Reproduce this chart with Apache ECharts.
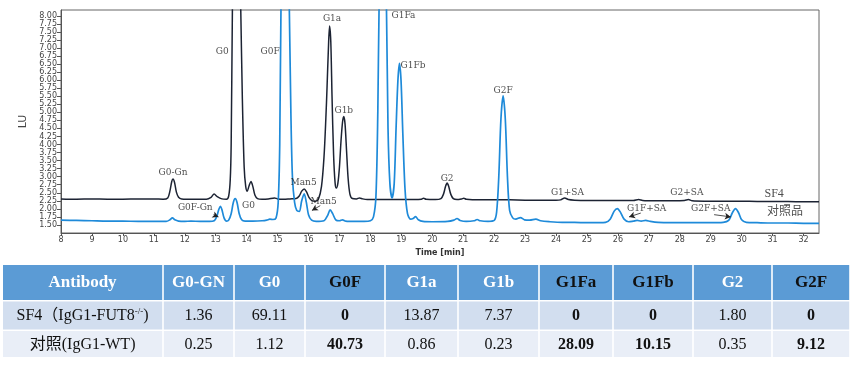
<!DOCTYPE html>
<html>
<head>
<meta charset="utf-8">
<script src="https://cdn.jsdelivr.net/npm/echarts@6/dist/echarts.min.js"></script>
<style>html,body{margin:0;padding:0;background:#fff;}#c{width:853px;height:365px;}</style>
</head>
<body>
<div id="c"></div>
<script>
// ---- chromatogram traces [time(min), signal(LU)] ----
const sf4Trace = [
[8.0,2.31],[8.5,2.30],[9.0,2.31],[9.5,2.30],[10.0,2.30],[10.5,2.31],[11.0,2.31],[11.3,2.30],[11.45,2.34],[11.52,2.55],[11.58,2.85],[11.62,2.93],[11.67,2.82],[11.73,2.52],[11.8,2.36],[11.9,2.31],[12.3,2.30],[12.7,2.30],[12.85,2.36],[12.95,2.46],[13.05,2.38],[13.2,2.31],[13.35,2.30],[13.42,2.40],[13.47,2.9],[13.5,4.0],[13.54,8.2],[13.58,11.5],[13.66,13.0],[13.74,11.5],[13.81,8.2],[13.86,5.5],[13.92,3.3],[13.97,2.7],[14.02,2.55],[14.08,2.72],[14.14,2.85],[14.2,2.70],[14.27,2.42],[14.35,2.32],[14.5,2.30],[14.7,2.31],[14.9,2.34],[15.0,2.31],[15.2,2.30],[15.4,2.31],[15.6,2.32],[15.7,2.40],[15.78,2.55],[15.86,2.62],[15.94,2.52],[16.02,2.35],[16.12,2.25],[16.22,2.24],[16.32,2.30],[16.42,2.70],[16.5,3.6],[16.56,4.8],[16.6,5.8],[16.64,6.9],[16.68,7.68],[16.72,7.2],[16.76,5.5],[16.81,3.7],[16.86,2.8],[16.9,2.65],[16.95,2.8],[17.0,3.3],[17.05,4.1],[17.1,4.7],[17.14,4.87],[17.18,4.65],[17.23,3.8],[17.28,2.95],[17.34,2.45],[17.42,2.32],[17.55,2.31],[17.65,2.34],[17.75,2.31],[17.9,2.29],[18.3,2.29],[18.7,2.29],[19.0,2.29],[19.4,2.29],[19.65,2.30],[19.72,2.33],[19.8,2.30],[20.1,2.29],[20.28,2.32],[20.36,2.45],[20.43,2.70],[20.48,2.80],[20.53,2.70],[20.6,2.45],[20.68,2.32],[20.8,2.29],[20.95,2.31],[21.02,2.33],[21.1,2.30],[21.5,2.28],[22.0,2.28],[22.5,2.28],[23.0,2.27],[23.5,2.27],[24.0,2.27],[24.15,2.28],[24.28,2.34],[24.4,2.29],[24.6,2.27],[25.0,2.26],[25.5,2.26],[26.0,2.26],[26.5,2.26],[26.67,2.29],[26.8,2.26],[27.2,2.25],[27.8,2.25],[28.15,2.26],[28.28,2.29],[28.4,2.25],[28.8,2.24],[29.5,2.24],[30.0,2.24],[30.5,2.23],[31.0,2.23],[31.5,2.23],[32.0,2.22],[32.5,2.22]
];
const ctrlTrace = [
[8.0,1.65],[8.5,1.64],[9.0,1.63],[9.5,1.62],[10.0,1.62],[10.5,1.61],[11.0,1.61],[11.4,1.61],[11.52,1.66],[11.6,1.72],[11.68,1.66],[11.8,1.62],[12.0,1.61],[12.2,1.62],[12.5,1.61],[12.8,1.61],[12.95,1.63],[13.03,1.75],[13.1,1.98],[13.15,2.08],[13.2,1.98],[13.27,1.72],[13.35,1.62],[13.42,1.65],[13.5,1.85],[13.57,2.2],[13.63,2.32],[13.69,2.2],[13.76,1.85],[13.84,1.66],[13.95,1.62],[14.2,1.62],[14.5,1.63],[14.65,1.65],[14.75,1.68],[14.85,1.67],[14.95,1.72],[15.02,2.2],[15.07,4.0],[15.11,8.2],[15.2,12.0],[15.3,12.0],[15.38,8.2],[15.43,5.0],[15.48,3.0],[15.55,2.2],[15.62,1.95],[15.7,1.92],[15.78,2.25],[15.86,2.47],[15.93,2.2],[16.0,1.82],[16.1,1.65],[16.25,1.61],[16.5,1.63],[16.62,1.8],[16.7,1.97],[16.78,1.85],[16.88,1.66],[17.0,1.63],[17.1,1.66],[17.2,1.62],[17.5,1.61],[17.8,1.61],[18.0,1.63],[18.1,1.75],[18.18,2.4],[18.24,5.0],[18.28,8.2],[18.4,13.0],[18.52,8.2],[18.57,4.5],[18.63,2.8],[18.7,2.34],[18.77,2.8],[18.83,4.5],[18.89,6.0],[18.94,6.52],[18.99,6.0],[19.05,4.3],[19.12,2.6],[19.2,1.85],[19.3,1.68],[19.38,1.7],[19.46,1.76],[19.55,1.66],[19.7,1.61],[20.0,1.60],[20.5,1.61],[20.7,1.65],[20.8,1.70],[20.9,1.64],[21.1,1.61],[21.35,1.63],[21.45,1.67],[21.55,1.63],[21.8,1.61],[22.0,1.64],[22.08,1.9],[22.15,3.0],[22.22,4.8],[22.29,5.51],[22.36,4.8],[22.43,3.0],[22.5,1.95],[22.6,1.72],[22.7,1.68],[22.85,1.73],[22.98,1.66],[23.15,1.65],[23.35,1.68],[23.5,1.63],[23.8,1.60],[24.2,1.58],[24.6,1.58],[25.0,1.57],[25.4,1.57],[25.6,1.58],[25.75,1.68],[25.88,1.93],[25.98,2.01],[26.08,1.9],[26.2,1.68],[26.35,1.60],[26.5,1.62],[26.62,1.64],[26.75,1.62],[26.9,1.64],[27.05,1.61],[27.3,1.58],[27.7,1.57],[28.0,1.57],[28.5,1.57],[29.0,1.57],[29.4,1.58],[29.58,1.64],[29.7,1.88],[29.8,2.01],[29.9,1.88],[30.0,1.66],[30.15,1.58],[30.5,1.57],[31.0,1.56],[31.5,1.56],[32.0,1.55],[32.5,1.55]
];
// peak annotations [text, time, signal]
const peakLabels = [
['G0-Gn',11.62,3.12],['G0',13.21,6.90],['G0F',14.76,6.90],['G1a',16.76,7.90],['G1Fa',19.07,8.00],
['G1b',17.14,5.05],['G1Fb',19.38,6.45],['G2F',22.29,5.68],['G2',20.48,2.94],['G1+SA',24.37,2.49],
['G2+SA',28.23,2.49],['G0F-Gn',12.34,2.03],['G0',14.06,2.11],['Man5',15.84,2.80],['Man5',16.49,2.23],
['G1F+SA',26.93,2.00],['G2F+SA',29.0,2.00]
];
const traceNames = [['SF4',31.05,2.46],['对照品',31.4,1.90]];
// arrows [fromT, fromV, toT, toV]
const arrows = [[12.93,1.82,13.09,1.75],[16.38,2.10,16.11,1.95],[26.74,1.87,26.36,1.75],[29.11,1.82,29.65,1.75]];

// ---- table ----
const tableHeaders = ['Antibody','G0-GN','G0','G0F','G1a','G1b','G1Fa','G1Fb','G2','G2F'];
const fucoCols = ['G0F','G1Fa','G1Fb','G2F'];
const rowLabels = [['SF4（IgG1-FUT8','-/-',')'],['对照(IgG1-WT)','','']];
const sf4Values = ['1.36','69.11','0','13.87','7.37','0','0','1.80','0'];
const ctrlValues = ['0.25','1.12','40.73','0.86','0.23','28.09','10.15','0.35','9.12'];

const chart = echarts.init(document.getElementById('c'), null, {renderer:'canvas'});
const serif = "'Liberation Serif','Noto Sans CJK SC',serif";
const lblSerif = "'DejaVu Serif','Liberation Serif',serif";
const sans = "'DejaVu Sans','Liberation Sans',sans-serif";

// table graphics
const colEdges = [3,163,234,305,385,458,539,613,693,772,850];
const rowEdges = [[265,300],[301.5,329.5],[331,357]];
const rowFills = ['#5B9BD5','#D2DEEF','#E9EEF7'];
const g = [];
for (let r = 0; r < 3; r++) {
  for (let c = 0; c < tableHeaders.length; c++) {
    const x0 = colEdges[c] + (c ? 0.8 : 0), x1 = colEdges[c+1] - 0.8;
    const y0 = rowEdges[r][0], y1 = rowEdges[r][1];
    g.push({type:'rect', shape:{x:x0,y:y0,width:x1-x0,height:y1-y0}, style:{fill:rowFills[r]}, silent:true});
    const fuco = fucoCols.indexOf(tableHeaders[c]) >= 0;
    let style;
    if (r === 0) {
      style = {text: tableHeaders[c], fontFamily: serif, fontSize: 17, fontWeight: 'bold', fill: fuco ? '#111' : '#fff'};
    } else if (c === 0) {
      const lab = rowLabels[r-1];
      let t = '{a|' + lab[0] + '}';
      if (lab[1]) t += '{s|' + lab[1] + '}';
      if (lab[2]) t += '{a|' + lab[2] + '}';
      style = {text: t, rich: {a:{fontFamily: serif, fontSize: 16, fill:'#111', lineHeight: 18}, s:{fontFamily: serif, fontSize: 9, fill:'#111', verticalAlign:'top', lineHeight: 18}}};
    } else {
      const v = (r === 1 ? sf4Values : ctrlValues)[c-1];
      style = {text: v, fontFamily: serif, fontSize: 16, fontWeight: fuco ? 'bold' : 'normal', fill:'#111'};
    }
    style.align = 'center'; style.textAlign = 'center';
    style.verticalAlign = 'middle'; style.textVerticalAlign = 'middle';
    g.push({type:'text', x:(x0+x1)/2, y:(y0+y1)/2 + 0.5, style: style, silent:true, z: 10});
  }
}

const labelData = peakLabels.map(p => ({name:p[0], value:[p[1],p[2]]}));
const nameData = traceNames.map(p => ({name:p[0], value:[p[1],p[2]]}));

chart.setOption({
  animation:false,
  backgroundColor:'#fff',
  grid:{left:61, right:34, top:10, bottom:132, show:true, borderColor:'#666', borderWidth:1, outerBoundsMode:'none'},
  xAxis:{type:'value', min:8, max:32.5, interval:1,
    name:'Time [min]', nameLocation:'middle', nameGap:8,
    nameTextStyle:{fontFamily:sans, fontSize:8, color:'#333', fontWeight:'bold'},
    axisLine:{show:true, onZero:false, lineStyle:{color:'#555', width:1}},
    axisTick:{show:true, length:3, lineStyle:{color:'#555'}},
    axisLabel:{fontFamily:sans, fontSize:8, color:'#444', margin:3, showMaxLabel:false},
    splitLine:{show:false}},
  yAxis:{type:'value', min:1.25, max:8.18, interval:0.25,
    name:'LU', nameLocation:'middle', nameGap:31, nameRotate:90,
    nameTextStyle:{fontFamily:sans, fontSize:11, color:'#444'},
    axisLine:{show:true, lineStyle:{color:'#555', width:1}},
    axisTick:{show:true, length:4, lineStyle:{color:'#555'}},
    axisLabel:{fontFamily:sans, fontSize:8, color:'#444', margin:4, showMinLabel:false, showMaxLabel:false,
      formatter: v => v.toFixed(2)},
    splitLine:{show:false}},
  series:[
    {name:'SF4', type:'line', data:sf4Trace, showSymbol:false, smooth:0.3, clip:true,
      lineStyle:{color:'#1c2333', width:1.5}, z:2},
    {name:'对照品', type:'line', data:ctrlTrace, showSymbol:false, smooth:0.3, clip:true,
      lineStyle:{color:'#1e8ad9', width:1.7}, z:3,
      markLine:{silent:true, symbol:['none','arrow'], symbolSize:[5,6], animation:false,
        label:{show:false}, lineStyle:{color:'#222', width:0.8, type:'solid'},
        emphasis:{disabled:true},
        data: arrows.map(a => [{coord:[a[0],a[1]]},{coord:[a[2],a[3]]}])}},
    {type:'scatter', data:labelData, symbolSize:0, silent:true, z:5,
      label:{show:true, position:'inside', formatter:'{b}', fontFamily:lblSerif, fontSize:9, color:'#1a1a1a'}},
    {type:'scatter', data:nameData, symbolSize:0, silent:true, z:5,
      label:{show:true, position:'inside', formatter:'{b}', fontFamily:serif, fontSize:12, color:'#222'}}
  ],
  graphic:{elements:g}
});
</script>
</body>
</html>
